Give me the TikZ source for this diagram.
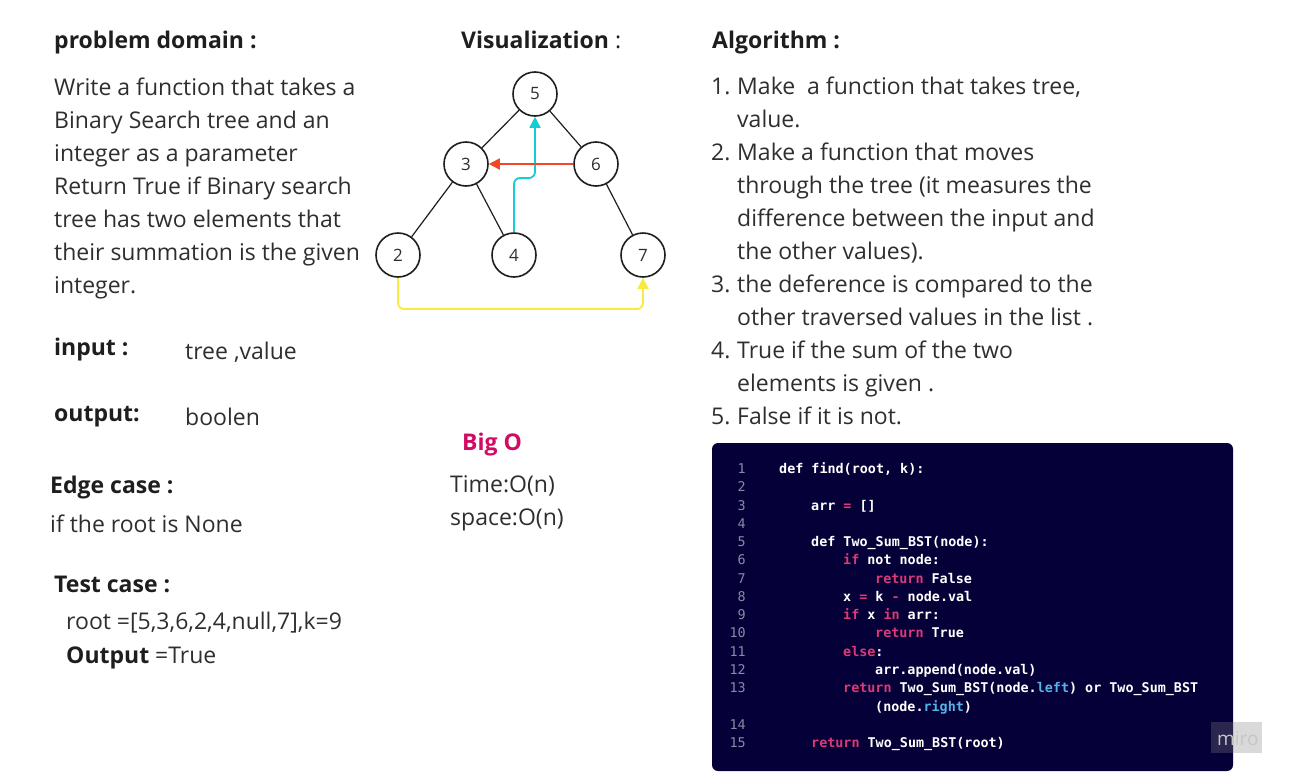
\documentclass[tikz,border=0pt]{standalone}
\usepackage{fontspec}
\setmainfont{Open Sans}
\newfontfamily\codefont{DejaVu Sans Mono}
\usetikzlibrary{arrows.meta}

\definecolor{headc}{HTML}{1E1E1E}
\definecolor{bodyc}{HTML}{2E2E2E}
\definecolor{bigoc}{HTML}{D10A63}
\definecolor{codebg}{HTML}{050038}
\definecolor{kwc}{HTML}{DB3A76}
\definecolor{attrc}{HTML}{55B4E6}
\definecolor{numc}{HTML}{8A8AA6}
\definecolor{upc}{HTML}{12CDD4}
\definecolor{leftc}{HTML}{F24726}
\definecolor{acrossc}{HTML}{F8EA3E}

\newcommand{\kw}[1]{\textcolor{kwc}{#1}}
\newcommand{\at}[1]{\textcolor{attrc}{#1}}

\tikzset{
  head/.style={anchor=base west,inner sep=0pt,text=headc,
    font=\fontsize{23}{27}\selectfont\bfseries},
  body/.style={anchor=base west,inner sep=0pt,text=bodyc,
    font=\fontsize{23}{27}\selectfont},
  codeline/.style={anchor=base west,inner sep=0pt,text=white,
    font=\codefont\fontsize{13.4}{16}\selectfont\bfseries},
  lineno/.style={anchor=base east,inner sep=0pt,text=numc,
    font=\codefont\fontsize{13.4}{16}\selectfont}
}

\begin{document}
\begin{tikzpicture}[x=1pt,y=-1pt,>={Triangle[length=11pt,width=11pt]},
  tree node/.style={circle,draw=headc,line width=1.6pt,fill=white,
    minimum size=44pt,inner sep=0pt,text=bodyc,font=\fontsize{17}{17}\selectfont},
  tree edge/.style={draw=headc,line width=1.2pt},
  hop/.style={->,line width=1.8pt,rounded corners=6pt}]
  \useasboundingbox (0,0) rectangle (1291,774);

  % left column
  \node[head] (pdom) at (54,48) {problem domain :};
  \foreach \t [count=\i] in {Write a function that takes a,
      Binary Search tree and an, integer as a parameter,
      Return True if Binary search, tree has two elements that,
      their summation is the given, integer.}
    \node[body] (pd\i) at (54,{95+33*(\i-1)}) {\t};

  \node[head] (inp) at (54,355) {input :};
  \node[body] (inpv) at (185,359) {tree ,value};
  \node[head] (outp) at (54,421) {output:};
  \node[body] (outpv) at (185,425) {boolen};
  \node[head] (edge) at (50,493) {Edge case :};
  \node[body] (edgev) at (50,532) {if the root is None};
  \node[head] (test) at (54,592) {Test case :};
  \node[body] (testv) at (66,629) {root =[5,3,6,2,4,null,7],k=9};
  \node[body] (testo) at (66,663) {\textbf{\color{headc}Output} =True};

  % tree
  \node[head] (vis) at (461,48) {Visualization {\mdseries :}};
  \node[tree node] (n5) at (535,94) {5};
  \node[tree node] (n3) at (466,164) {3};
  \node[tree node] (n6) at (596,164) {6};
  \node[tree node] (n2) at (398,255) {2};
  \node[tree node] (n4) at (514,255) {4};
  \node[tree node] (n7) at (643,255) {7};
  \path[tree edge] (n5) -- (n3) (n5) -- (n6) (n3) -- (n2)
    (n3) -- (n4) (n6) -- (n7);

  \coordinate (upbend) at (535,178);
  \coordinate (lowline) at (520,309);
  \draw[hop,upc] (n4.north) |- (upbend) -- (n5.south);
  \draw[hop,leftc] (n6.west) -- (n3.east);
  \draw[hop,acrossc] (n2.south) |- (lowline) -| (n7.south);

  % complexity
  \node[head,text=bigoc] (bigo) at (462,450) {Big O};
  \node[body] (time) at (450,492) {Time:O(n)};
  \node[body] (space) at (450,525) {space:O(n)};

  % algorithm
  \node[head] (alg) at (712,48) {Algorithm :};
  \foreach \n/\r in {1/1,2/3,3/7,4/9,5/11}
    \node[body] (num\n) at (711,{94+33*(\r-1)}) {\n.};
  \foreach \t [count=\i] in {{Make~ a function that takes tree,}, value.,
      Make a function that moves, through the tree (it measures the,
      difference between the input and, the other values).,
      the deference is compared to the, other traversed values in the list .,
      True if the sum of the two, elements is given ., False if it is not.}
    \node[body] (al\i) at (737,{94+33*(\i-1)}) {\t};

  % code
  \fill[codebg,rounded corners=6pt] (712,443) rectangle (1233,771);
  \foreach \n/\r in {1/1,2/2,3/3,4/4,5/5,6/6,7/7,8/8,9/9,10/10,
      11/11,12/12,13/13,14/15,15/16}
    \node[lineno] (ln\n) at (746,{473.5+18.27*(\r-1)}) {\n};
  \node[codeline] (c1) at (779,473.5) {def find(root, k):};
  \node[codeline] (c3) at (811,510.0) {arr \kw{=} []};
  \node[codeline] (c5) at (811,546.6) {def Two\_Sum\_BST(node):};
  \node[codeline] (c6) at (843,564.9) {\kw{if} not node:};
  \node[codeline] (c7) at (875,583.1) {\kw{return} False};
  \node[codeline] (c8) at (843,601.4) {x \kw{=} k \kw{-} node.val};
  \node[codeline] (c9) at (843,619.7) {\kw{if} x \kw{in} arr:};
  \node[codeline] (c10) at (875,637.9) {\kw{return} True};
  \node[codeline] (c11) at (843,656.2) {\kw{else}:};
  \node[codeline] (c12) at (875,674.5) {arr.append(node.val)};
  \node[codeline] (c13) at (843,692.7) {\kw{return} Two\_Sum\_BST(node.\at{left}) or Two\_Sum\_BST};
  \node[codeline] (c13b) at (875,711.0) {(node.\at{right})};
  \node[codeline] (c15) at (811,747.5) {\kw{return} Two\_Sum\_BST(root)};

  % watermark
  \fill[gray,opacity=0.3] (1211,722) rectangle (1262,753);
  \node[anchor=base west,inner sep=0pt,text=gray!45,
    font=\fontsize{19}{19}\selectfont] (miro) at (1217,745) {miro};
\end{tikzpicture}
\end{document}
